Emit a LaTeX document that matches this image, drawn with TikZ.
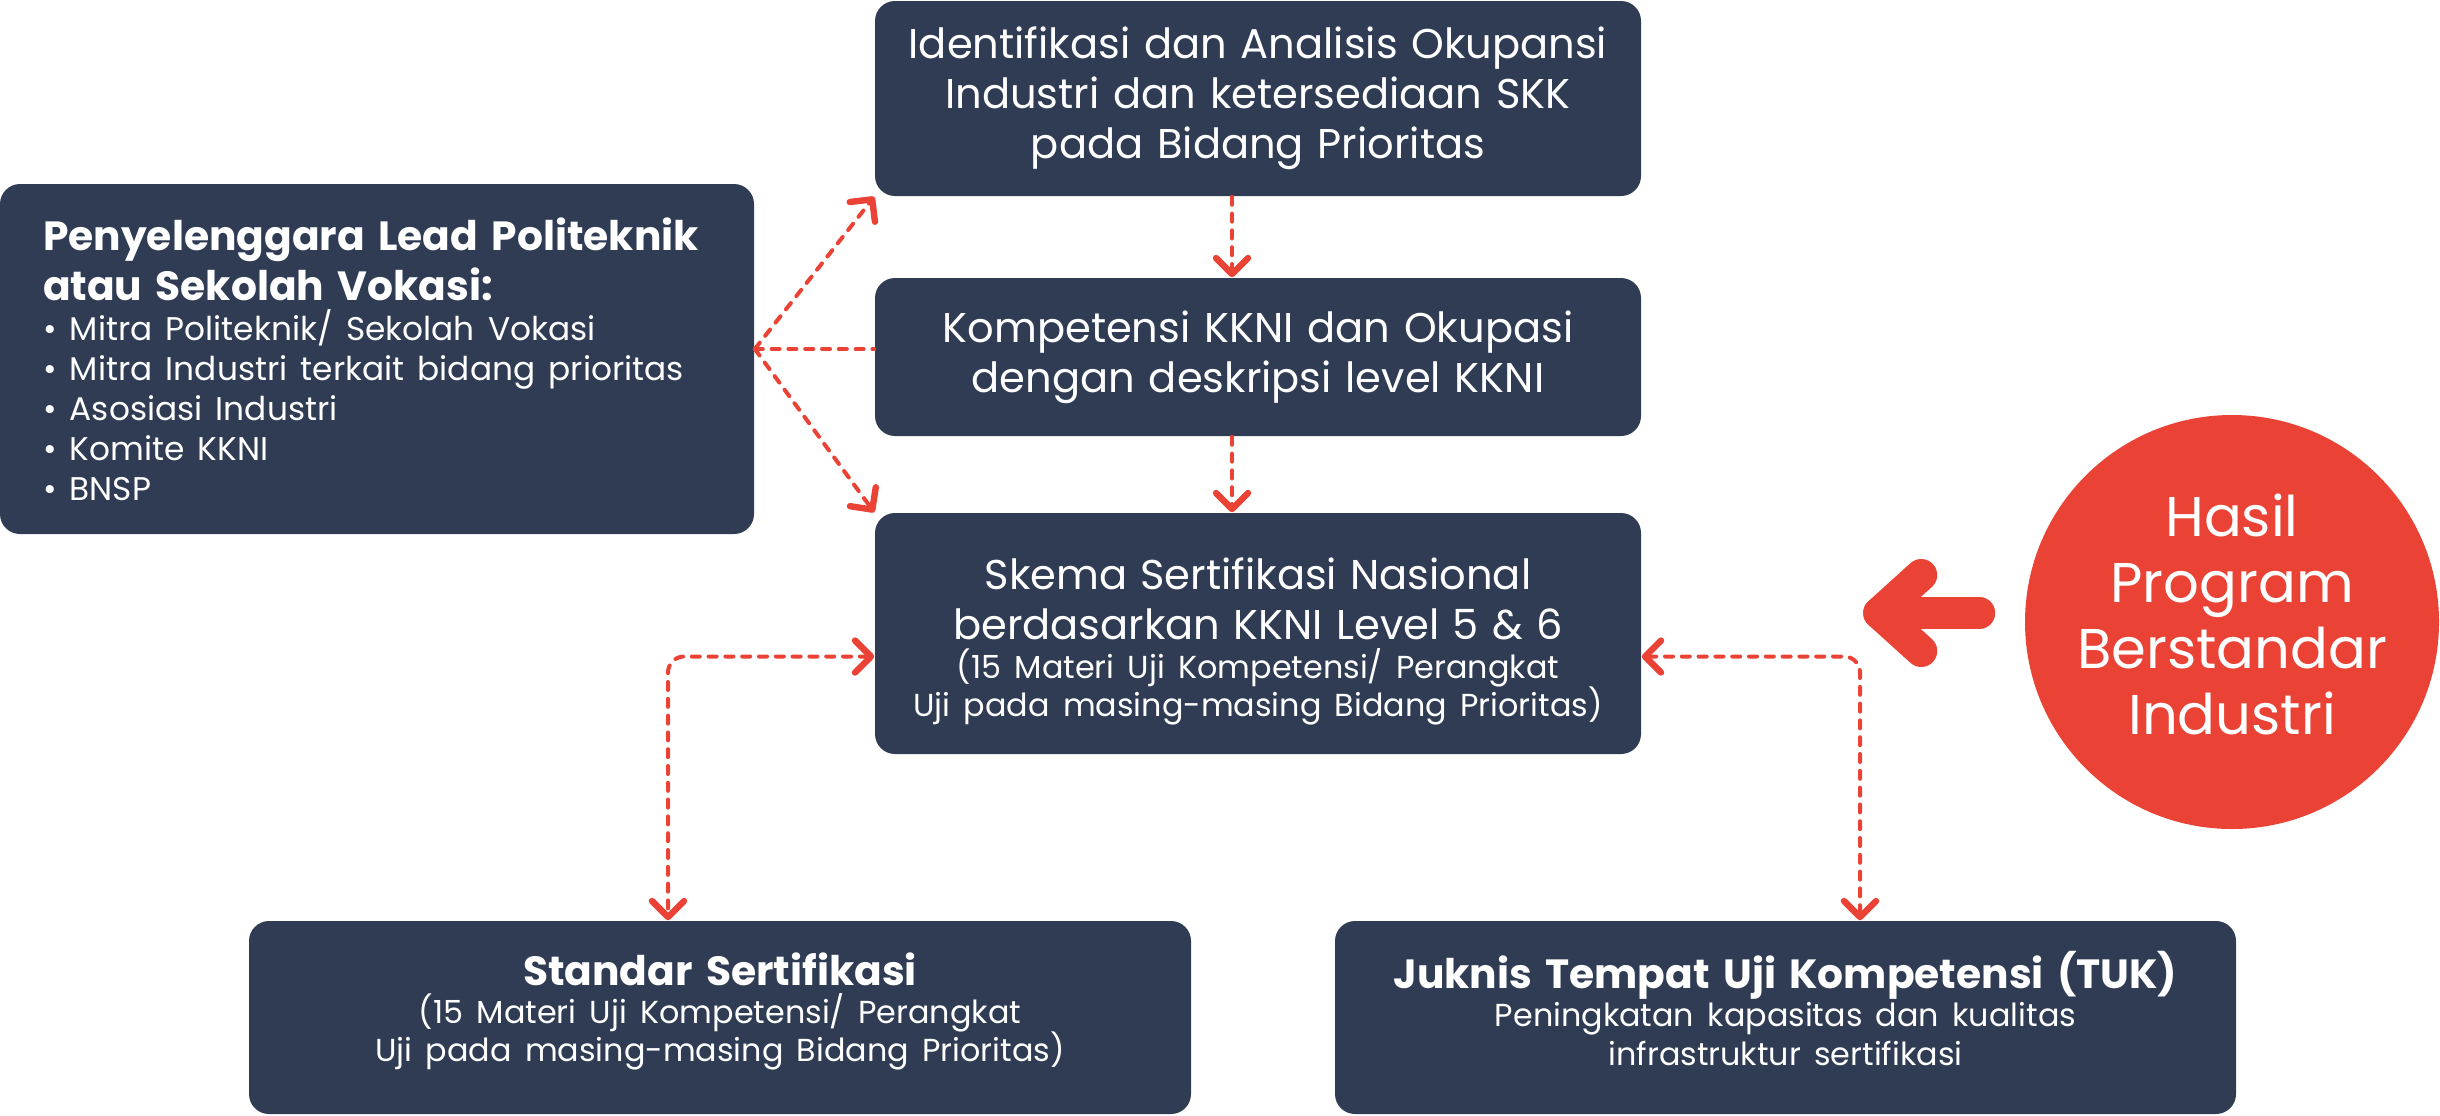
\documentclass[tikz,border=0pt]{standalone}
\usepackage{fontspec}
\setmainfont{Poppins}
\usetikzlibrary{arrows.meta,calc}

\definecolor{navy}{RGB}{47,60,84}
\definecolor{redline}{RGB}{234,67,53}

\newcommand\mainsize{\fontsize{10.4}{12.5}\selectfont}
\newcommand\titlesize{\fontsize{10.2}{12.5}\selectfont\bfseries}
\newcommand\subsize{\fontsize{7.95}{9.6}\selectfont}
\newcommand\itemsize{\fontsize{8.2}{10}\selectfont}

\tikzset{
  box/.style={fill=navy, rounded corners=5pt, text=white, align=center, inner sep=0pt},
  flowline/.style={redline, line width=1pt, dash pattern=on 2pt off 2.2pt, line cap=round},
  flow/.style={flowline, -{Straight Barb[length=4pt, width=8pt, line width=1.6pt, round]}},
  twoway/.style={flowline, rounded corners=4pt, {Straight Barb[length=4pt, width=8pt, line width=1.6pt, round]}-{Straight Barb[length=4pt, width=8pt, line width=1.6pt, round]}},
  bigarrow/.style={redline, line width=8pt, line cap=round, line join=round}
}

\begin{document}
\begin{tikzpicture}[x=0.25pt, y=-0.25pt]
	\useasboundingbox (0,0) rectangle (2440,1115);

	% boxes
	\node[box, minimum width=188.5pt, minimum height=87.5pt, text width=167pt, align=left] (lead) at (377,359)
		{{\titlesize Penyelenggara Lead Politeknik\\ atau Sekolah Vokasi:\par}
		 {\itemsize • Mitra Politeknik/ Sekolah Vokasi\\ • Mitra Industri terkait bidang prioritas\\ • Asosiasi Industri\\ • Komite KKNI\\ • BNSP\par}};
	\node[box, minimum width=191.5pt, minimum height=48.75pt, text width=185pt, font=\mainsize] (ident) at (1258,98.5)
		{Identifikasi dan Analisis Okupansi\\ Industri dan ketersediaan SKK\\ pada Bidang Prioritas};
	\node[box, minimum width=191.5pt, minimum height=39.5pt, text width=185pt, font=\mainsize] (komp) at (1258,357)
		{Kompetensi KKNI dan Okupasi\\ dengan deskripsi level KKNI};
	\node[box, minimum width=191.5pt, minimum height=60.25pt, text width=185pt] (skema) at (1258,633.5)
		{{\mainsize Skema Sertifikasi Nasional\\ berdasarkan KKNI Level 5 \& 6\par}
		 {\subsize (15 Materi Uji Kompetensi/ Perangkat\\ Uji pada masing-masing Bidang Prioritas)\par}\vspace{-4pt}};
	\node[box, minimum width=235.5pt, minimum height=48.25pt, text width=225pt] (standar) at (720,1017.5)
		{{\titlesize Standar Sertifikasi\par}
		 {\subsize (15 Materi Uji Kompetensi/ Perangkat\\ Uji pada masing-masing Bidang Prioritas)\par}\vspace{3pt}};
	\node[box, minimum width=225.25pt, minimum height=48.25pt, text width=220pt] (juknis) at (1785.5,1017.5)
		{{\titlesize Juknis Tempat Uji Kompetensi (TUK)\par}
		 {\subsize Peningkatan kapasitas dan kualitas\\ infrastruktur sertifikasi\par}\vspace{4.5pt}};
	\node[circle, fill=redline, minimum size=103.5pt, inner sep=0pt,
		label={[text=white, align=center, font=\fontsize{14}{16.5}\selectfont, yshift=2pt]center:Hasil\\ Program\\ Berstandar\\ Industri}] (hasil) at (2232,622) {};

	% dashed connectors
	\coordinate (fan) at ($(lead.east)+(0,-10)$);
	\draw[flow] (fan) -- (ident.south west);
	\draw[flowline] (fan) -- (fan -| komp.west);
	\draw[flow] (fan) -- (skema.north west);

	\coordinate (v1) at ($(ident.south)+(-26,0)$);
	\coordinate (v2) at ($(komp.south)+(-26,0)$);
	\draw[flow] (v1) -- (v1 |- komp.north);
	\draw[flow] (v2) -- (v2 |- skema.north);

	\coordinate (sl) at ($(skema.west)+(0,23)$);
	\coordinate (sd) at ($(standar.north)+(-52,0)$);
	\coordinate (sr) at ($(skema.east)+(0,23)$);
	\coordinate (jd) at ($(juknis.north)+(74.5,0)$);
	\draw[twoway] (sl) -| (sd);
	\draw[twoway] (sr) -| (jd);

	% big arrow
	\coordinate (tail) at ($(hasil.west)+(-45,-9)$);
	\coordinate (tip) at ($(hasil.west)+(-145,-9)$);
	\draw[bigarrow] (tail) -- (tip);
	\draw[bigarrow] ($(tip)+(42,-38)$) -- (tip) -- ($(tip)+(42,38)$);
\end{tikzpicture}
\end{document}
